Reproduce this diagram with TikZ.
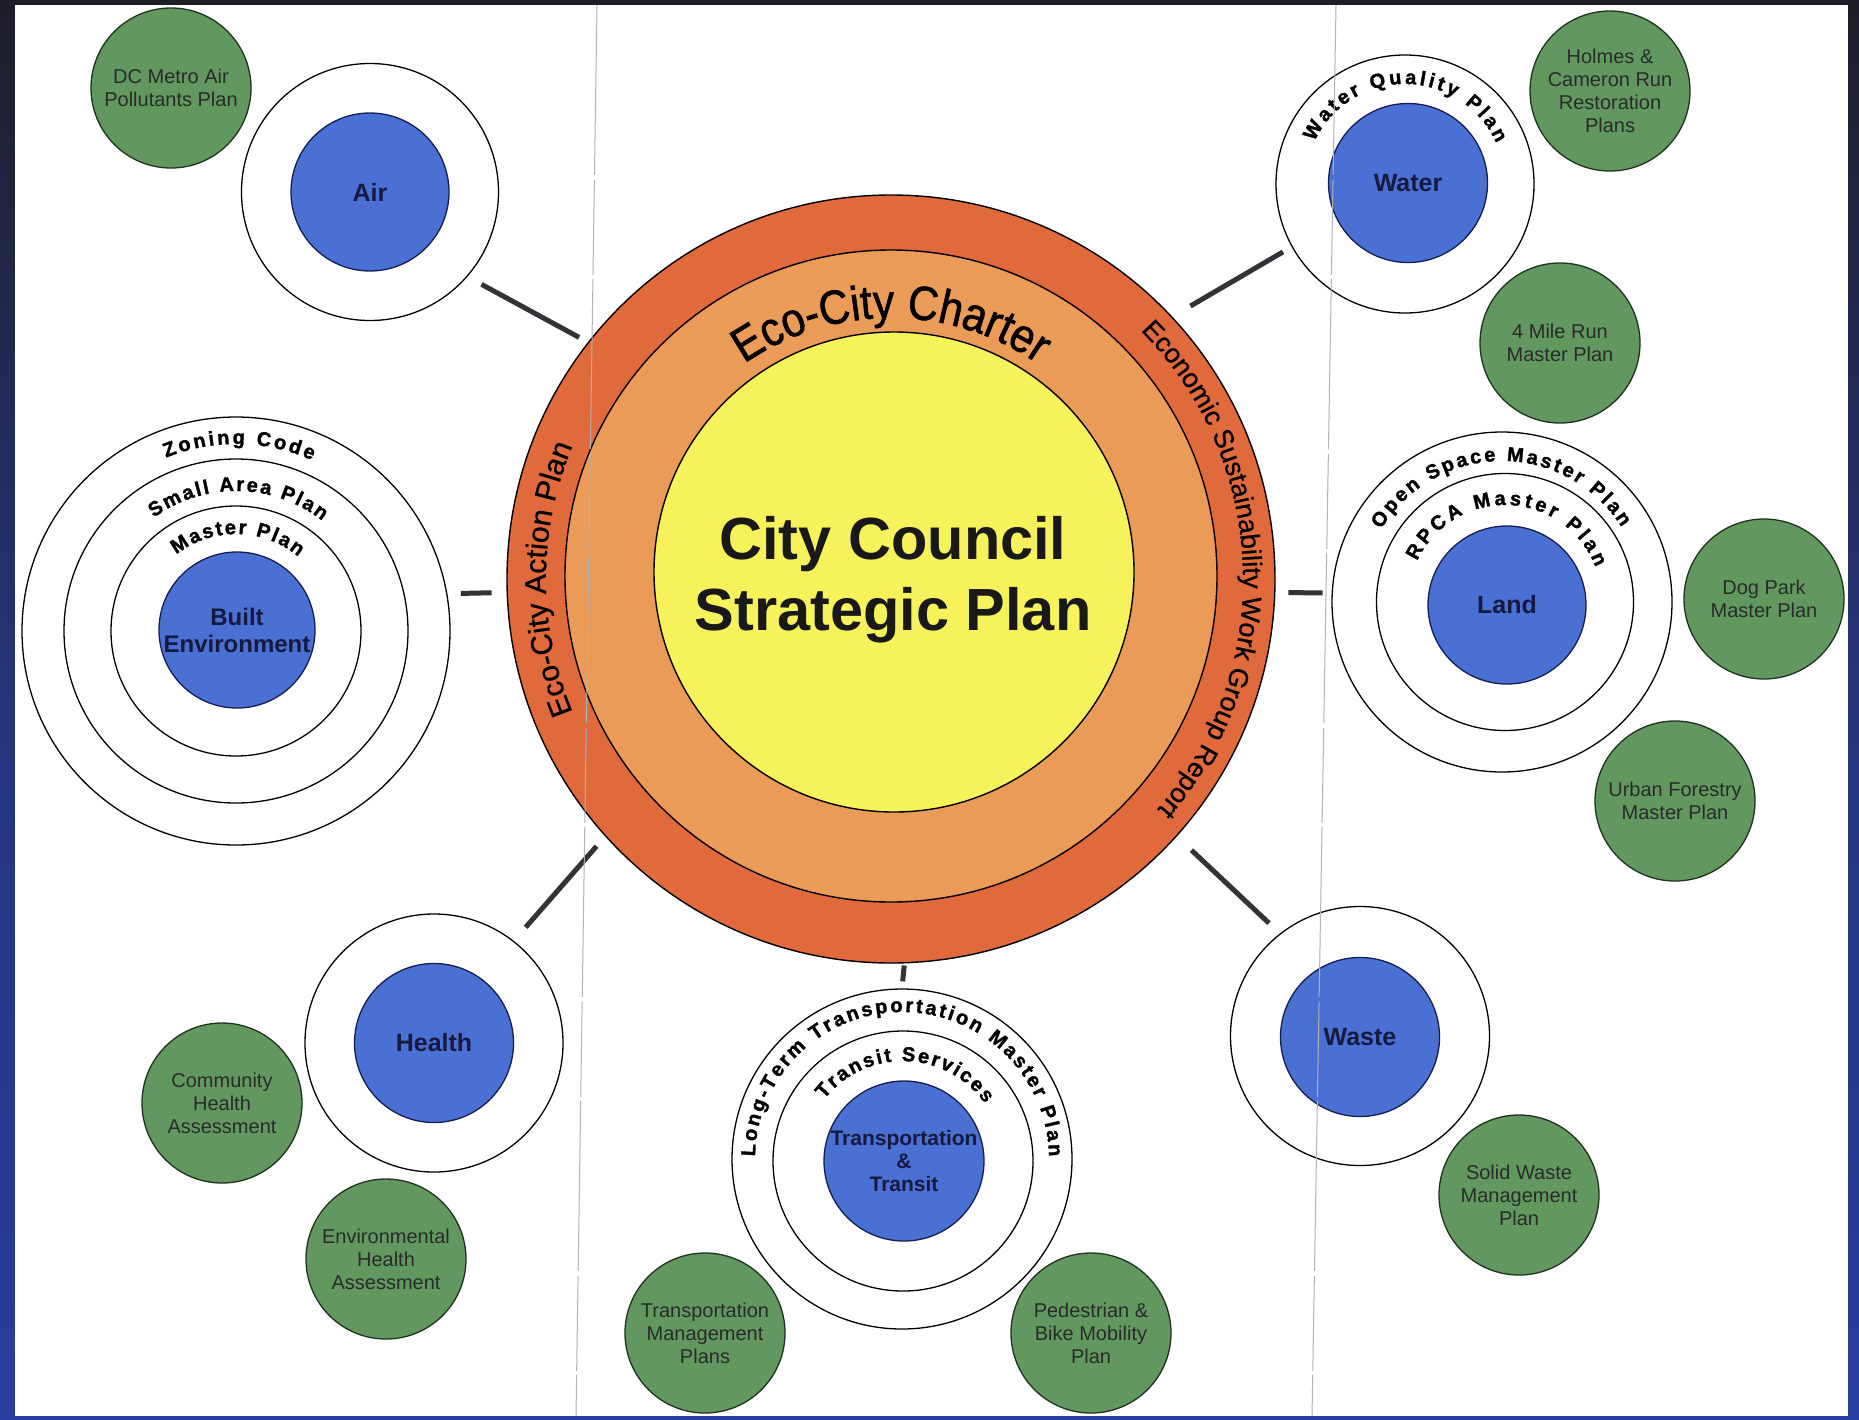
\documentclass[tikz,border=0pt]{standalone}
\usepackage{fontspec}
\setmainfont{Liberation Sans}
\newfontfamily\lblheavy{Liberation Sans}[BoldFeatures={FakeBold=1.6}]
\newfontfamily\ringfont{Liberation Sans}[FakeStretch=0.88, FakeBold=1.2]
\newfontfamily\bandfont{Liberation Sans}[FakeBold=0.7]
\usetikzlibrary{decorations.text}

\definecolor{bluefill}{RGB}{74,112,212}
\definecolor{blueedge}{RGB}{20,30,80}
\definecolor{greenfill}{RGB}{98,152,96}
\definecolor{greenedge}{RGB}{30,50,30}
\definecolor{ringred}{RGB}{224,106,60}
\definecolor{ringorange}{RGB}{235,155,88}
\definecolor{coreyellow}{RGB}{246,242,92}
\definecolor{navytext}{RGB}{22,26,64}
\definecolor{greentext}{RGB}{40,44,40}
\definecolor{frameblue}{RGB}{40,62,160}
\definecolor{framedark}{RGB}{30,30,40}
\definecolor{connector}{RGB}{50,50,55}

\newcommand\ringlblfont{\lblheavy\fontsize{20}{24}\selectfont\bfseries}

\begin{document}
\begin{tikzpicture}[x=1pt,y=1pt,
  ring/.style={circle, draw=black, line width=1.3pt, fill=white, inner sep=0pt, minimum size=#1},
  bluec/.style={circle, draw=blueedge, line width=1.3pt, fill=bluefill, inner sep=0pt, minimum size=#1},
  greenc/.style={circle, draw=greenedge, line width=1.3pt, fill=greenfill, inner sep=0pt,
    minimum size=160pt, align=center, font=\fontsize{20}{23}\selectfont, text=greentext},
  bluetext/.style={align=center, font=\fontsize{25}{28}\selectfont\bfseries, text=navytext, inner sep=0pt},
  corec/.style={circle, draw=black, line width=1.4pt, inner sep=0pt, minimum size=#1},
  conn/.style={line width=5pt, draw=connector},
  fold/.style={draw=gray!60, line width=1pt, dash pattern=on 170pt off 5pt on 95pt off 4pt},
  arclabel/.style={decorate, decoration={text along path, text={|\ringlblfont|#1}, text align={fit to path}}},
]
% frame
\shade[top color=framedark, bottom color=frameblue, middle color=frameblue!70!framedark] (0,0) rectangle (1859,-1419);
\fill[white] (15,-5) rectangle (1848,-1416);
\useasboundingbox (0,0) rectangle (1859,-1419);

% central circles
\node[corec=768pt, fill=ringred] (core) at (891,-579) {};
\node[corec=652pt, fill=ringorange] (mid) at (891,-576) {};
\node[corec=480pt, fill=coreyellow] (yel) at (894,-572) {};
\node[font=\fontsize{59.5}{71}\selectfont\bfseries, align=center, text=black!90] (title) at (893,-580) {City Council\\Strategic Plan};

\path[decorate, decoration={text along path, text={|\ringfont\fontsize{48}{50}\selectfont|Eco-City Charter}, text align=center}]
  (mid.center) ++(165:258pt) arc[start angle=165, end angle=15, radius=258pt];
\path[decorate, decoration={text along path, text={|\bandfont\fontsize{30}{34}\selectfont|Eco-City Action Plan}, text align=center}]
  (core.center) ++(250:345pt) arc[start angle=250, end angle=110, radius=345pt];
\path[decorate, decoration={text along path, text={|\bandfont\fontsize{27}{30}\selectfont|Economic Sustainability Work Group Report}, text align=center}]
  (core.center) ++(92:352pt) arc[start angle=92, end angle=-88, radius=352pt];

% Air
\node[ring=257pt] (airR) at (370,-192) {};
\node[bluec=158pt] (airB) at (370,-192) {};
\node[bluetext] (airT) at (370,-192) {Air};
\node[greenc] (dcm) at (171,-88) {DC Metro Air\\Pollutants Plan};
\draw[conn, shorten <=16pt, shorten >=10pt] (airR.-41) -- (core.142);

% Built Environment
\node[ring=428pt] (beR1) at (236,-631) {};
\node[ring=344pt] (beR2) at (236,-631) {};
\node[ring=250pt] (beR3) at (236,-631) {};
\node[bluec=156pt] (beB) at (237,-630) {};
\node[bluetext, font=\fontsize{24}{27}\selectfont\bfseries] (beT) at (237,-630) {Built\\Environment};
\path[arclabel=Zoning Code] (beR1.center) ++(112:187pt) arc[start angle=112, end angle=66, radius=187pt];
\path[arclabel=Small Area Plan] (beR1.center) ++(126:140pt) arc[start angle=126, end angle=52, radius=140pt];
\path[arclabel=Master Plan] (beR1.center) ++(128:97pt) arc[start angle=128, end angle=50, radius=97pt];
\draw[conn, shorten <=13.5pt, shorten >=15pt] (beR1.10) -- (core.182);

% Health
\node[ring=258pt] (hR) at (434,-1043) {};
\node[bluec=159pt] (hB) at (434,-1043) {};
\node[bluetext] (hT) at (434,-1043) {Health};
\node[greenc] (cha) at (222,-1103) {Community\\Health\\Assessment};
\node[greenc] (eha) at (386,-1259) {Environmental\\Health\\Assessment};
\draw[conn, shorten <=18pt, shorten >=13pt] (hR.52) -- (core.222);

% Transportation
\node[ring=340pt] (tR1) at (902,-1159) {};
\node[ring=260pt] (tR2) at (903,-1161) {};
\node[bluec=160pt] (tB) at (904,-1161) {};
\node[bluetext, font=\fontsize{21}{23}\selectfont\bfseries] (tT) at (904,-1161) {Transportation\\\&\\Transit};
\node[greenc] (tmp) at (705,-1333) {Transportation\\Management\\Plans};
\node[greenc] (pbm) at (1091,-1333) {Pedestrian \&\\Bike Mobility\\Plan};
\path[arclabel=Long-Term Transportation Master Plan] (tR1.center) ++(179:147pt) arc[start angle=179, end angle=1, radius=147pt];
\path[arclabel=Transit Services] (tR2.center) ++(142:100pt) arc[start angle=142, end angle=35, radius=100pt];
\draw[conn, shorten <=7pt, shorten >=2pt] (tR1.90) -- (core.-88);

% Waste
\node[ring=259pt] (wR) at (1360,-1036) {};
\node[bluec=159pt] (wB) at (1360,-1037) {};
\node[bluetext] (wT) at (1360,-1037) {Waste};
\node[greenc] (swm) at (1519,-1195) {Solid Waste\\Management\\Plan};
\draw[conn, shorten <=15pt, shorten >=20pt] (wR.128) -- (core.-42);

% Land
\node[ring=340pt] (lR1) at (1502,-602) {};
\node[ring=257pt] (lR2) at (1505,-602) {};
\node[bluec=158pt] (lB) at (1507,-605) {};
\node[bluetext] (lT) at (1507,-605) {Land};
\node[greenc] (dog) at (1764,-599) {Dog Park\\Master Plan};
\node[greenc] (ufm) at (1675,-801) {Urban Forestry\\Master Plan};
\path[arclabel=Open Space Master Plan] (lR1.center) ++(149:141pt) arc[start angle=149, end angle=32, radius=141pt];
\path[arclabel=RPCA Master Plan] (lR2.center) ++(155:97pt) arc[start angle=155, end angle=21, radius=97pt];
\draw[conn, shorten <=9pt, shorten >=13pt] (lR1.177) -- (core.-2);

% Water
\node[ring=258pt] (waR) at (1405,-184) {};
\node[bluec=159pt] (waB) at (1408,-183) {};
\node[bluetext] (waT) at (1408,-183) {Water};
\node[greenc] (hcr) at (1610,-91) {Holmes \&\\Cameron Run\\Restoration\\Plans};
\node[greenc] (fmr) at (1560,-343) {4 Mile Run\\Master Plan};
\path[arclabel=Water Quality Plan] (waR.center) ++(155:100pt) arc[start angle=155, end angle=24, radius=100pt];
\draw[conn, shorten <=10pt, shorten >=21pt] (waR.209) -- (core.43);

% fold lines of the scanned sheet
\draw[fold] (597,-5) -- (576,-1416);
\draw[fold] (1336,-5) -- (1312,-1416);
\end{tikzpicture}
\end{document}
